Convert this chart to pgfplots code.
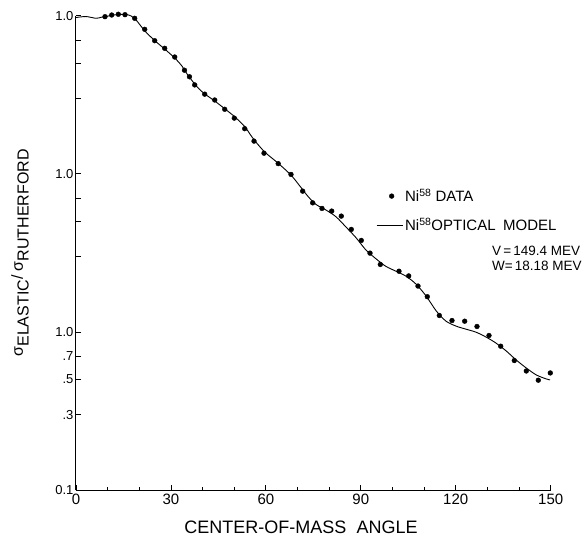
\documentclass[border=0pt]{standalone}
\usepackage{pgfplots}
\pgfplotsset{compat=1.18}
\usepackage{fontspec}
\setmainfont{Liberation Sans}
\begin{document}
\begin{tikzpicture}
\begin{axis}[name=ax, width=474.7pt, height=474.3pt, scale only axis,
  xmin=0, xmax=150, ymin=0.001, ymax=1, ymode=log, clip=false,
  axis x line*=bottom, axis y line*=left,
  axis line style={-, line width=1pt},
  xtick={0,30,60,90,120,150}, xticklabels={0,30,60,90,120,150},
  minor xtick={10,20,40,50,70,80,100,110,130,140},
  ytick={0.001,0.003,0.005,0.007,0.01,0.03,0.05,0.07,0.1,0.3,0.5,0.7,1},
  yticklabels={0.1,.3,.5,.7,1.0,,,,1.0,,,,1.0},
  minor ytick={},
  tick align=inside, major tick length=5pt, minor tick length=3pt,
  tick style={black, line width=0.8pt},
  xticklabel style={font=\fontsize{15}{17}\selectfont},
  yticklabel style={font=\fontsize{13}{15}\selectfont, xshift=1pt},
  xlabel={CENTER-OF-MASS\hspace{0.3em} ANGLE},
  xlabel style={at={(axis description cs:0.474,-0.078)}, anchor=center, font=\fontsize{18}{20}\selectfont},
  ylabel={σ\raisebox{-0.35em}{ELASTIC}/ σ\raisebox{-0.35em}{RUTHERFORD}},
  ylabel style={at={(axis description cs:-0.118,0.5)}, anchor=center, font=\fontsize{16}{18}\selectfont},
  legend style={draw=none, fill=none, at={(axis description cs:0.632,0.589)}, anchor=west,
    font=\fontsize{15}{17}\selectfont, row sep=11pt, inner sep=0pt, cells={anchor=west}},
]
\addplot[only marks, mark=*, mark size=2.4pt, black,
  legend image code/.code={\fill (15pt,0pt) circle (2.4pt);}] table {
x y
9.16 0.986
11.28 1.010
13.37 1.021
15.48 1.015
18.55 0.963
21.71 0.820
24.87 0.695
28.03 0.622
31.19 0.548
34.28 0.452
35.86 0.411
37.51 0.365
40.67 0.319
43.83 0.293
46.99 0.256
50.02 0.225
53.31 0.193
56.25 0.161
59.41 0.135
63.89 0.116
67.94 0.0991
71.63 0.0777
74.79 0.0655
77.73 0.0604
80.80 0.0581
83.83 0.0540
86.99 0.0445
90.15 0.0379
92.90 0.0315
96.16 0.0267
102.06 0.0242
105.13 0.0226
108.07 0.0195
111.01 0.0167
114.80 0.0127
118.81 0.0118
122.82 0.01169
126.71 0.01082
130.50 0.00949
134.20 0.00812
138.50 0.00659
142.29 0.00566
146.08 0.00495
149.87 0.00550
};
\addlegendentry{Ni\textsuperscript{58} DATA}
\addplot[black, line width=0.9pt, smooth, no marks,
  legend image code/.code={\draw[line width=0.9pt] (0pt,0pt) -- (26pt,0pt);}] table {
x y
0 0.974
3.16 0.988
6.32 0.963
7.9 0.977
9.48 0.988
11.4 1.007
13.6 1.018
15.8 1.018
17.4 0.996
19.0 0.939
20.5 0.860
22.1 0.788
24.9 0.695
28.0 0.616
31.2 0.540
33.5 0.480
35.1 0.428
37.0 0.381
38.9 0.344
40.8 0.319
43.9 0.288
47.1 0.257
50.2 0.229
53.4 0.198
55.0 0.178
56.6 0.161
59.7 0.137
63.8 0.117
67.9 0.0983
70.8 0.0834
73.3 0.0720
75.8 0.0641
79.0 0.0590
82.2 0.0534
85.3 0.0461
88.5 0.0394
91.6 0.0330
94.8 0.0290
97.9 0.0260
101.1 0.0242
104.3 0.0225
107.4 0.0201
110.6 0.0169
113.8 0.0136
116.9 0.0117
120.1 0.01088
123.2 0.01041
126.4 0.00996
129.6 0.00927
132.7 0.00850
135.9 0.00759
139.0 0.00667
142.2 0.00593
145.4 0.00535
148.5 0.00505
149.8 0.00497
};
\addlegendentry{Ni\textsuperscript{58}OPTICAL\hspace{0.5em}MODEL}
\node[anchor=west, font=\fontsize{13.5}{15}\selectfont] at (axis description cs:0.869,0.505) {V\,=\,149.4 MEV};
\node[anchor=west, font=\fontsize{13.5}{15}\selectfont] at (axis description cs:0.869,0.472) {W=\,18.18 MEV};
\end{axis}
\pgfresetboundingbox
\useasboundingbox ([shift={(-76pt,-50pt)}]ax.south west) rectangle ([shift={(33.3pt,15.7pt)}]ax.north east);
\end{tikzpicture}
\end{document}
